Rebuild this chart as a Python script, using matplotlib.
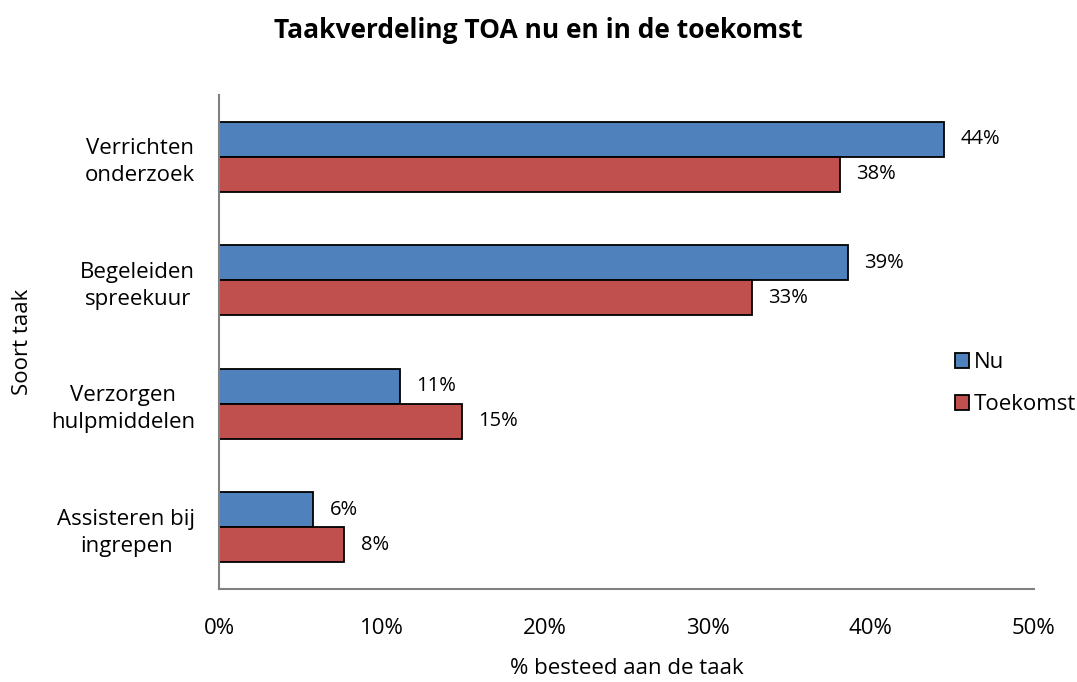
import matplotlib.pyplot as plt
import numpy as np

plt.rcParams['font.family'] = ['Open Sans', 'DejaVu Sans']

categories = ['Verrichten\nonderzoek', 'Begeleiden\nspreekuur', 'Verzorgen\nhulpmiddelen', 'Assisteren bij\ningrepen']
nu = [44.5, 38.6, 11.1, 5.8]
toekomst = [38.1, 32.7, 14.9, 7.7]
xticks = [0, 10, 20, 30, 40, 50]

fig = plt.figure(figsize=(10.77, 6.82), dpi=100)
ax = fig.add_axes([0.2033, 0.1364, 0.7567, 0.7243])

y = np.arange(len(categories))
h = 0.284
b1 = ax.barh(y - h / 2, nu, height=h, color='#4F81BD', edgecolor='black', linewidth=1.3, label='Nu')
b2 = ax.barh(y + h / 2, toekomst, height=h, color='#C0504D', edgecolor='black', linewidth=1.3, label='Toekomst')

for bars, vals in [(b1, nu), (b2, toekomst)]:
    for bar, v in zip(bars, vals):
        ax.text(v + 1.0, bar.get_y() + bar.get_height() / 2, f"{round(v):.0f}%",
                va='center', ha='left', fontsize=14.5)

ax.set_ylim(3.5, -0.5)
ax.set_xlim(0, 50)
ax.set_yticks(y)
ax.set_yticklabels(categories, fontsize=16, ha='right', multialignment='center', linespacing=1.38)
ax.tick_params(axis='y', length=0, pad=17)
ax.set_xticks(xticks)
ax.set_xticklabels([f"{t}%" for t in xticks], fontsize=16)
ax.tick_params(axis='x', length=0, pad=21)

for s in ['top', 'right']:
    ax.spines[s].set_visible(False)
for s in ['left', 'bottom']:
    ax.spines[s].set_color('#808080')
    ax.spines[s].set_linewidth(1.5)

ax.set_xlabel('% besteed aan de taak', fontsize=16)
ax.xaxis.set_label_coords(0.5, -0.14)
ax.set_ylabel('Soort taak', fontsize=16)
ax.yaxis.set_label_coords(-0.228, 0.5)
fig.suptitle('Taakverdeling TOA nu en in de toekomst', fontsize=19, fontweight='bold', y=0.975)

ax.legend(loc='center left', bbox_to_anchor=(0.903, 0.416), frameon=False, fontsize=16,
          handlelength=0.65, handleheight=0.65, handletextpad=0.2, labelspacing=0.95,
          borderpad=0, borderaxespad=0)

fig.savefig('out.png', dpi=100)
